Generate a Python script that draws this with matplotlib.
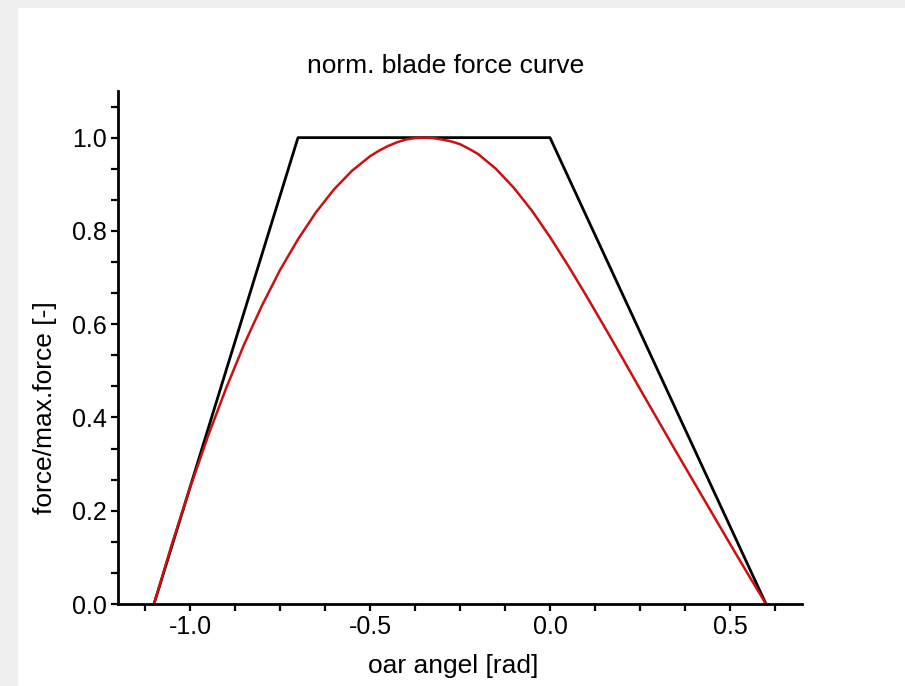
import numpy as np
import matplotlib.pyplot as plt
from matplotlib.ticker import MultipleLocator
from matplotlib.patches import Rectangle

plt.rcParams['font.family'] = ['Liberation Sans', 'DejaVu Sans']

# trapezoid approximation of the blade force
trap_x = [-1.1, -0.7, 0.0, 0.6]
trap_y = [0.0, 1.0, 1.0, 0.0]

# measured normalised force along the stroke
curve_x = [-1.100, -1.050, -1.000, -0.950, -0.900, -0.850, -0.800, -0.750,
           -0.700, -0.650, -0.600, -0.550, -0.500, -0.475, -0.450, -0.425,
           -0.400, -0.375, -0.350, -0.325, -0.300, -0.275, -0.250, -0.225,
           -0.200, -0.150, -0.100, -0.050, 0.000, 0.050, 0.100, 0.150,
           0.200, 0.250, 0.300, 0.350, 0.400, 0.450, 0.500, 0.550, 0.600]
curve_y = [0.000, 0.129, 0.249, 0.360, 0.462, 0.556, 0.640, 0.716,
           0.782, 0.840, 0.889, 0.929, 0.960, 0.972, 0.982, 0.990,
           0.996, 0.999, 1.000, 0.999, 0.996, 0.992, 0.986, 0.976,
           0.965, 0.933, 0.892, 0.843, 0.787, 0.726, 0.662, 0.596,
           0.529, 0.461, 0.394, 0.327, 0.261, 0.195, 0.129, 0.064, 0.000]

W, H = 905, 686
fig = plt.figure(figsize=(W / 100, H / 100), dpi=100, facecolor='#f0f0f0')
fig.patches.append(Rectangle((18 / W, 0), 1, 1 - 8 / H, transform=fig.transFigure,
                             facecolor='white', edgecolor='none', zorder=-5))

ax = fig.add_axes([118 / W, (H - 604) / H, (802 - 118) / W, (604 - 91) / H])
ax.set_zorder(2)
ax.set_facecolor('none')

ax.plot(trap_x, trap_y, color='black', lw=2)
ax.plot(curve_x, curve_y, color='#cc1010', lw=1.8)

ax.set_xlim(-1.2, 0.7)
ax.set_ylim(0.0, 1.1)

for side in ['top', 'right']:
    ax.spines[side].set_visible(False)
for side in ['left', 'bottom']:
    ax.spines[side].set_linewidth(2)

ax.xaxis.set_major_locator(MultipleLocator(0.5))
ax.xaxis.set_minor_locator(MultipleLocator(0.125))
ax.yaxis.set_major_locator(MultipleLocator(0.2))
ax.yaxis.set_minor_locator(MultipleLocator(0.2 / 3))
ax.tick_params(which='both', direction='out', width=1.6, length=5,
               labelsize=18, pad=3)
ax.set_xticks([-1.0, -0.5, 0.0, 0.5])
ax.set_xticklabels(['-1.0', '-0.5', '0.0', '0.5'])
ax.set_yticks([0.0, 0.2, 0.4, 0.6, 0.8, 1.0])
ax.set_yticklabels(['0.0', '0.2', '0.4', '0.6', '0.8', '1.0'])

fig.text(446 / W, 1 - 66 / H, 'norm. blade force curve', ha='center', va='center',
         fontsize=19)
fig.text(453 / W, 1 - 666 / H, 'oar angel [rad]', ha='center', va='center',
         fontsize=19)
fig.text(45 / W, 1 - 408 / H, 'force/max.force [-]', ha='center', va='center',
         rotation=90, fontsize=19)

fig.savefig('out.png', dpi=100, facecolor=fig.get_facecolor())
